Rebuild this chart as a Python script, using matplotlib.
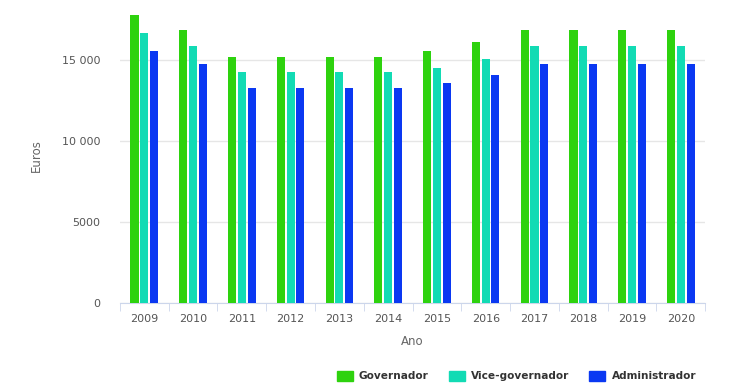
import numpy as np
import matplotlib.pyplot as plt
from matplotlib.patches import Patch

anos = ['2009', '2010', '2011', '2012', '2013', '2014', '2015', '2016', '2017', '2018', '2019', '2020']
governador = [17800, 16850, 15200, 15200, 15200, 15200, 15560, 16100, 16850, 16850, 16850, 16850]
vice_governador = [16680, 15850, 14250, 14250, 14250, 14250, 14530, 15080, 15850, 15850, 15850, 15850]
administrador = [15560, 14770, 13280, 13280, 13280, 13280, 13600, 14070, 14770, 14770, 14770, 14770]
yticks = [0, 5000, 10000, 15000]
ytick_labels = ['0', '5000', '10 000', '15 000']

cores = ['#2ed20e', '#12dbb4', '#0a38f2']
nomes = ['Governador', 'Vice-governador', 'Administrador']

fig = plt.figure(figsize=(7.4, 3.89), dpi=100)
ax = fig.add_axes([0.162, 0.221, 0.791, 0.758])

x = np.arange(len(anos))
w = 0.165
step = 0.2
for i, (vals, c) in enumerate(zip([governador, vice_governador, administrador], cores)):
    ax.bar(x + (i - 1) * step, vals, width=w, color=c, zorder=3)

ax.set_xlim(-0.5, len(anos) - 0.5)
ax.set_ylim(0, 18200)
ax.set_yticks(yticks)
ax.set_yticklabels(ytick_labels)
ax.set_xticks(x)
ax.set_xticklabels(anos)
ax.set_xticks(np.arange(-0.5, len(anos)), minor=True)
ax.tick_params(axis='x', which='major', length=0, pad=8, labelsize=8, labelcolor='#555555')
ax.tick_params(axis='x', which='minor', length=6, color='#ccd6eb')
ax.tick_params(axis='y', length=0, pad=14, labelsize=8, labelcolor='#555555')
ax.grid(axis='y', color='#e6e6e6', linewidth=1, zorder=0)
for s in ['top', 'right', 'left']:
    ax.spines[s].set_visible(False)
ax.spines['bottom'].set_color('#ccd6eb')

ax.set_ylabel('Euros', color='#666666', fontsize=8.5, labelpad=14)
ax.set_xlabel('Ano', color='#666666', fontsize=8.5, labelpad=8)

handles = [Patch(color=c, label=n) for c, n in zip(cores, nomes)]
leg = fig.legend(handles=handles, loc='center', bbox_to_anchor=(0.698, 0.033), ncol=3,
                 frameon=False, prop={'weight': 'bold', 'size': 7.6},
                 handlelength=1.5, handleheight=1.1, columnspacing=1.9, handletextpad=0.6)
for t in leg.get_texts():
    t.set_color('#333333')

fig.savefig('out.png', dpi=100)
